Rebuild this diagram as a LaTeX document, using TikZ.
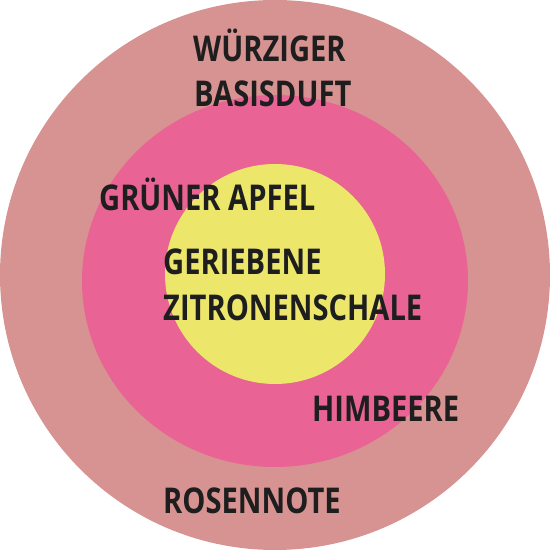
\documentclass[tikz,border=0pt]{standalone}
\usepackage{fontspec}
\setmainfont{Open Sans}[FakeStretch=0.82,UprightFont=* Bold]
\definecolor{outerc}{HTML}{D79391}
\definecolor{midc}{HTML}{E96494}
\definecolor{innerc}{HTML}{ECE66B}
\definecolor{txt}{HTML}{1E1E1E}
\begin{document}
\begin{tikzpicture}[x=1pt,y=1pt,
  lbl/.style={anchor=base west,inner sep=0pt,text=txt,font=\fontsize{35.5}{45}\selectfont,align=left}]
\useasboundingbox (0,0) rectangle (550,550);
\fill[outerc] (275,275) circle [radius=275];
\fill[midc] (275,269) ellipse [x radius=193,y radius=186];
\fill[innerc] (275,276) circle [radius=110];
\node[lbl] (wuerz) at (193,488) {WÜRZIGER};
\node[lbl] (basis) at (194,443) {BASISDUFT};
\node[lbl] (apfel) at (99,339) {GRÜNER APFEL};
\node[lbl] (gerie) at (163,275) {GERIEBENE};
\node[lbl] (zitro) at (163,229) {ZITRONENSCHALE};
\node[lbl] (himb) at (312,128) {HIMBEERE};
\node[lbl] (rose) at (163,37) {ROSENNOTE};
\end{tikzpicture}
\end{document}
